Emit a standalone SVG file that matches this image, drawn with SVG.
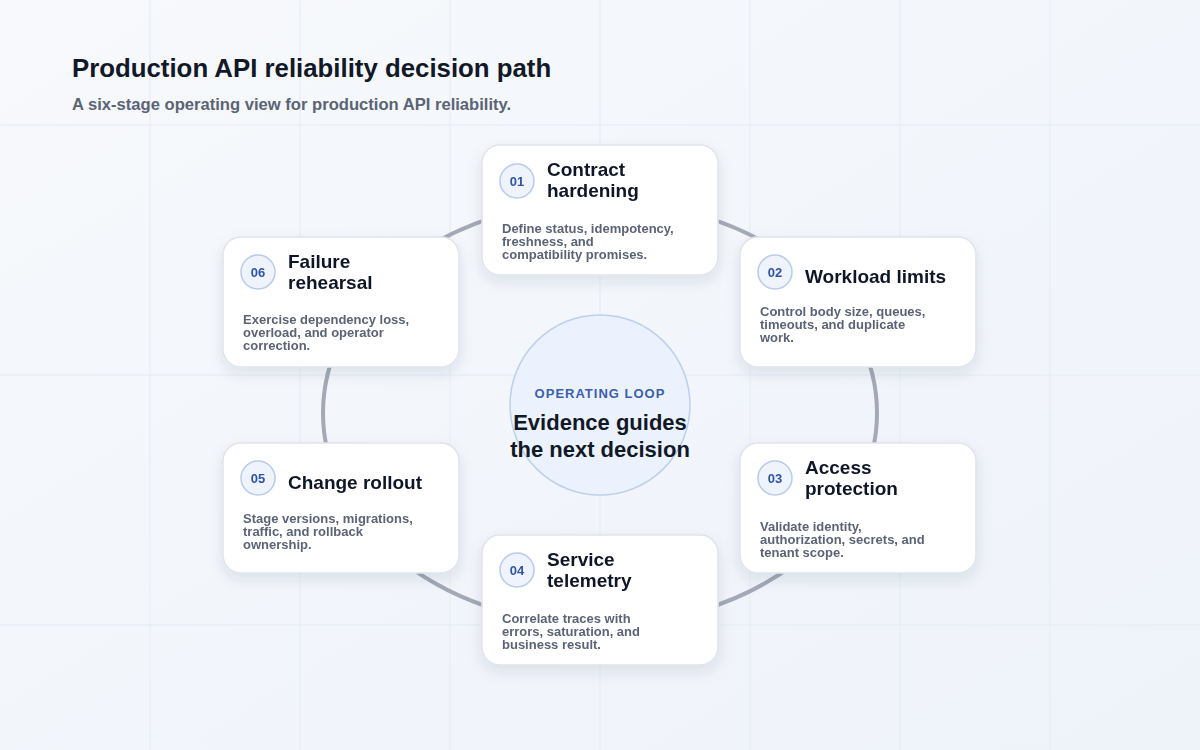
<svg xmlns="http://www.w3.org/2000/svg" width="1200" height="750" viewBox="0 0 1200 750">
<style>
.card{fill:#fff;stroke:#dfe4ec;stroke-width:1.5}
.badge{fill:#eef3fc;stroke:#b9cbeb;stroke-width:1.5}
.num{font:700 13px "Liberation Sans",Arial,sans-serif;fill:#2f55a4;text-anchor:middle}
.tt{font:700 19px "Liberation Sans",Arial,sans-serif;fill:#111827}
.bd{font:700 13px "Liberation Sans",Arial,sans-serif;fill:#5b6475}
.grid{stroke:#e6ebf3;stroke-width:1}
</style>
<defs>
<linearGradient id="bg" x1="0" y1="0" x2="1" y2="1"><stop offset="0" stop-color="#f7f9fc"/><stop offset="1" stop-color="#eef2f9"/></linearGradient>
<filter id="sh" x="-20%" y="-20%" width="140%" height="150%"><feDropShadow dx="0" dy="6" stdDeviation="7" flood-color="#1f2a44" flood-opacity="0.1"/></filter>
</defs>
<rect width="1200" height="750" fill="url(#bg)"/>
<g class="grid">
<line x1="150" y1="0" x2="150" y2="750"/><line x1="300" y1="0" x2="300" y2="750"/><line x1="450" y1="0" x2="450" y2="750"/><line x1="600" y1="0" x2="600" y2="750"/><line x1="750" y1="0" x2="750" y2="750"/><line x1="900" y1="0" x2="900" y2="750"/><line x1="1050" y1="0" x2="1050" y2="750"/>
<line x1="0" y1="125" x2="1200" y2="125"/><line x1="0" y1="375" x2="1200" y2="375"/><line x1="0" y1="625" x2="1200" y2="625"/>
</g>
<text x="72" y="77" style="font:700 25.8px 'Liberation Sans',Arial,sans-serif;fill:#111827">Production API reliability decision path</text>
<text x="72" y="110" style="font:700 16.6px 'Liberation Sans',Arial,sans-serif;fill:#5b6475">A six-stage operating view for production API reliability.</text>
<g id="connectors">
<ellipse cx="600" cy="413" rx="277" ry="212" fill="none" stroke="#a3a9b6" stroke-width="4"/>
</g>
<g id="center">
<circle cx="600" cy="405" r="90" fill="#ecf2fd" stroke="#bcd0ee" stroke-width="1.5"/>
<text x="600" y="398" text-anchor="middle" style="font:700 13px 'Liberation Sans',Arial,sans-serif;fill:#3a5fae;letter-spacing:1px">OPERATING LOOP</text>
<text x="600" y="430" text-anchor="middle" style="font:700 22px 'Liberation Sans',Arial,sans-serif;fill:#111827">Evidence guides</text>
<text x="600" y="457" text-anchor="middle" style="font:700 22px 'Liberation Sans',Arial,sans-serif;fill:#111827">the next decision</text>
</g>
<g id="n01" filter="url(#sh)"><rect class="card" x="482" y="145" width="236" height="130" rx="18"/>
<circle class="badge" cx="517" cy="181" r="17"/><text class="num" x="517" y="186">01</text>
<text class="tt" x="547" y="176">Contract</text><text class="tt" x="547" y="197">hardening</text>
<text class="bd" x="502" y="233">Define status, idempotency,</text><text class="bd" x="502" y="246">freshness, and</text><text class="bd" x="502" y="259">compatibility promises.</text></g>
<g id="n02" filter="url(#sh)"><rect class="card" x="740" y="237" width="236" height="130" rx="18"/>
<circle class="badge" cx="775" cy="272" r="17"/><text class="num" x="775" y="277">02</text>
<text class="tt" x="805" y="283">Workload limits</text>
<text class="bd" x="760" y="316">Control body size, queues,</text><text class="bd" x="760" y="329">timeouts, and duplicate</text><text class="bd" x="760" y="342">work.</text></g>
<g id="n03" filter="url(#sh)"><rect class="card" x="740" y="443" width="236" height="130" rx="18"/>
<circle class="badge" cx="775" cy="478" r="17"/><text class="num" x="775" y="483">03</text>
<text class="tt" x="805" y="474">Access</text><text class="tt" x="805" y="495">protection</text>
<text class="bd" x="760" y="531">Validate identity,</text><text class="bd" x="760" y="544">authorization, secrets, and</text><text class="bd" x="760" y="557">tenant scope.</text></g>
<g id="n04" filter="url(#sh)"><rect class="card" x="482" y="535" width="236" height="130" rx="18"/>
<circle class="badge" cx="517" cy="570" r="17"/><text class="num" x="517" y="575">04</text>
<text class="tt" x="547" y="566">Service</text><text class="tt" x="547" y="587">telemetry</text>
<text class="bd" x="502" y="623">Correlate traces with</text><text class="bd" x="502" y="636">errors, saturation, and</text><text class="bd" x="502" y="649">business result.</text></g>
<g id="n05" filter="url(#sh)"><rect class="card" x="223" y="443" width="236" height="130" rx="18"/>
<circle class="badge" cx="258" cy="478" r="17"/><text class="num" x="258" y="483">05</text>
<text class="tt" x="288" y="489">Change rollout</text>
<text class="bd" x="243" y="523">Stage versions, migrations,</text><text class="bd" x="243" y="536">traffic, and rollback</text><text class="bd" x="243" y="549">ownership.</text></g>
<g id="n06" filter="url(#sh)"><rect class="card" x="223" y="237" width="236" height="130" rx="18"/>
<circle class="badge" cx="258" cy="272" r="17"/><text class="num" x="258" y="277">06</text>
<text class="tt" x="288" y="268">Failure</text><text class="tt" x="288" y="289">rehearsal</text>
<text class="bd" x="243" y="324">Exercise dependency loss,</text><text class="bd" x="243" y="337">overload, and operator</text><text class="bd" x="243" y="350">correction.</text></g>
</svg>
